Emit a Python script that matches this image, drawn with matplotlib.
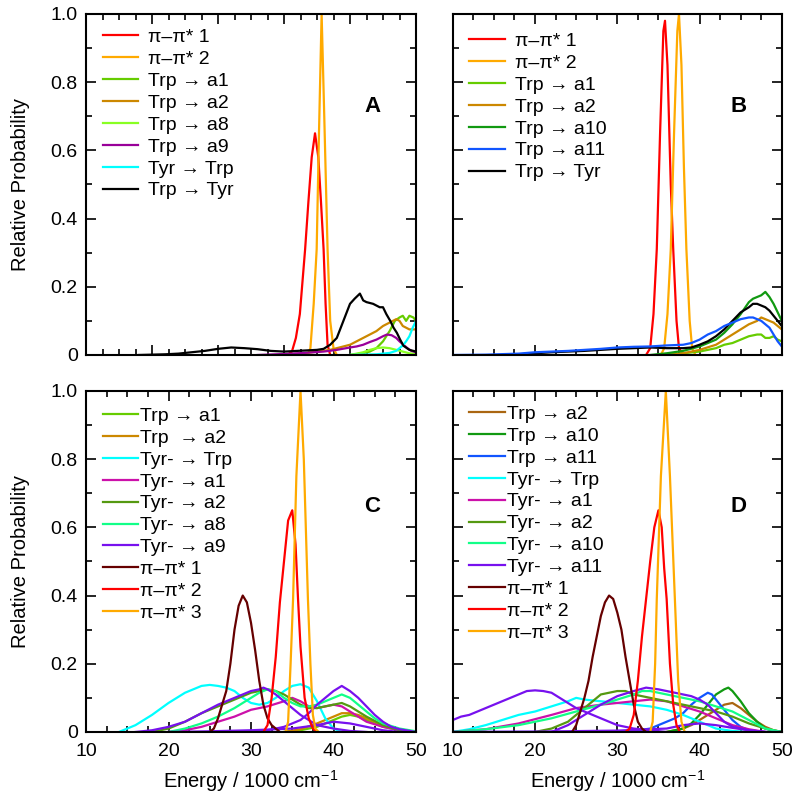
import matplotlib
matplotlib.use('Agg')
import matplotlib.pyplot as plt
from matplotlib.ticker import MultipleLocator

plt.rcParams['font.family'] = ['Liberation Sans', 'DejaVu Sans']
plt.rcParams['mathtext.fontset'] = 'custom'
plt.rcParams['mathtext.rm'] = 'Liberation Sans'

# ---------------- Panel A (x from 0 to 50) ----------------
a_pp1_x = [30.5, 31.2, 31.8, 32.4, 33.2, 33.7, 34.2, 34.7, 35.2, 35.6, 36.0, 36.3, 36.6, 37.0]
a_pp1_y = [0, 0.01, 0.05, 0.12, 0.31, 0.45, 0.58, 0.65, 0.58, 0.45, 0.31, 0.15, 0.03, 0]
a_pp2_x = [33.6, 34.0, 34.5, 34.95, 35.3, 35.7, 36.1, 36.6, 37.0, 37.5, 38.0]
a_pp2_y = [0, 0.02, 0.15, 0.31, 0.65, 1.0, 0.7, 0.31, 0.1, 0.02, 0]
a_a1_x = [40, 42, 43, 44, 45, 46, 46.8, 47.5, 48, 48.5, 49, 49.6, 50]
a_a1_y = [0, 0.005, 0.01, 0.02, 0.04, 0.07, 0.1, 0.11, 0.115, 0.1, 0.115, 0.11, 0.1]
a_a2_x = [30, 33, 35, 37, 38, 39, 40, 41, 42, 43, 44, 45, 46, 47, 47.5, 48, 48.5, 49, 50]
a_a2_y = [0, 0.005, 0.01, 0.015, 0.02, 0.025, 0.03, 0.04, 0.05, 0.06, 0.07, 0.085, 0.095, 0.105, 0.1,
          0.085, 0.08, 0.075, 0.075]
a_a8_x = [40, 42, 43, 44, 45, 46, 47, 48, 49, 50]
a_a8_y = [0, 0.008, 0.015, 0.02, 0.022, 0.02, 0.015, 0.01, 0.005, 0.003]
a_a9_x = [26, 30, 33, 36, 38, 40, 41, 42, 43, 44, 45, 45.6, 46.3, 47, 47.5, 48.1, 48.7, 49.3, 50]
a_a9_y = [0, 0.003, 0.006, 0.01, 0.015, 0.022, 0.025, 0.03, 0.038, 0.045, 0.055, 0.06, 0.058, 0.05,
          0.04, 0.03, 0.02, 0.012, 0.008]
a_tyrtrp_x = [40, 42, 44, 45, 46, 47, 47.5, 48, 48.5, 49, 49.5, 50]
a_tyrtrp_y = [0, 0.001, 0.002, 0.004, 0.006, 0.012, 0.02, 0.028, 0.04, 0.055, 0.08, 0.1]
a_trptyr_x = [8, 10, 12, 14, 16, 18, 20, 22, 24, 26, 28, 30, 32, 34, 35, 36, 37, 38, 38.5, 39, 39.5,
              40, 40.7, 41.5, 42, 42.5, 43.5, 44.5, 45, 45.5, 46.1, 46.6, 47.1, 47.6, 48.1, 49, 50]
a_trptyr_y = [0, 0.001, 0.002, 0.004, 0.008, 0.012, 0.018, 0.022, 0.02, 0.017, 0.012, 0.01, 0.012,
              0.014, 0.015, 0.018, 0.03, 0.05, 0.075, 0.1, 0.125, 0.15, 0.165, 0.18, 0.16, 0.155,
              0.15, 0.14, 0.14, 0.12, 0.1, 0.08, 0.065, 0.045, 0.027, 0.015, 0.01]

# ---------------- Panel B ----------------
b_pp1_x = [33.5, 34.0, 34.4, 34.8, 35.2, 35.6, 35.8, 36.1, 36.5, 36.8, 37.2, 37.5, 38.0]
b_pp1_y = [0, 0.02, 0.12, 0.31, 0.65, 0.95, 0.98, 0.85, 0.5, 0.31, 0.1, 0.02, 0]
b_pp2_x = [35.3, 35.7, 36.1, 36.5, 36.9, 37.3, 37.5, 37.8, 38.1, 38.4, 38.8, 39.1, 39.5]
b_pp2_y = [0, 0.02, 0.12, 0.31, 0.65, 0.95, 1.0, 0.85, 0.55, 0.31, 0.1, 0.02, 0]
b_a1_x = [36, 38, 40, 42, 43, 44, 45, 46, 47, 47.5, 48, 48.5, 49, 49.5, 50]
b_a1_y = [0, 0.005, 0.01, 0.02, 0.03, 0.035, 0.045, 0.055, 0.06, 0.06, 0.05, 0.05, 0.055, 0.045, 0.04]
b_a2_x = [36, 38, 40, 42, 43, 44, 45, 46, 47, 47.5, 48, 48.5, 49, 49.5, 50]
b_a2_y = [0, 0.005, 0.015, 0.03, 0.045, 0.06, 0.075, 0.09, 0.1, 0.11, 0.105, 0.1, 0.095, 0.085, 0.075]
b_a10_x = [34, 36, 38, 40, 41, 42, 43, 44, 45, 46, 46.5, 47, 47.5, 48, 48.5, 49, 49.5, 50]
b_a10_y = [0, 0.005, 0.012, 0.025, 0.035, 0.045, 0.065, 0.09, 0.12, 0.155, 0.165, 0.17, 0.175, 0.185,
           0.17, 0.15, 0.125, 0.1]
b_a11_x = [10, 14, 18, 20, 22, 24, 26, 28, 30, 32, 34, 36, 38, 39, 40, 41, 42, 43, 44, 45, 46, 46.5,
           47, 47.5, 48, 48.5, 49, 49.5, 50]
b_a11_y = [0, 0.001, 0.004, 0.008, 0.01, 0.012, 0.015, 0.018, 0.022, 0.024, 0.025, 0.028, 0.03, 0.035,
           0.045, 0.06, 0.07, 0.085, 0.095, 0.105, 0.11, 0.11, 0.105, 0.1, 0.09, 0.08, 0.06, 0.04, 0.025]
b_trptyr_x = [16, 18, 20, 22, 24, 26, 28, 30, 32, 34, 36, 38, 39, 40, 41, 42, 43, 44, 45, 46, 46.5,
              47, 47.5, 48, 48.5, 49, 49.5, 50]
b_trptyr_y = [0, 0.002, 0.005, 0.008, 0.01, 0.012, 0.015, 0.018, 0.02, 0.022, 0.02, 0.02, 0.022, 0.03,
              0.04, 0.055, 0.075, 0.1, 0.125, 0.14, 0.15, 0.15, 0.145, 0.14, 0.13, 0.115, 0.1, 0.085]

# ---------------- Panel C ----------------
c_a1_x = [34, 36, 38, 39, 40, 41, 42, 43, 44, 45, 46, 48, 50]
c_a1_y = [0, 0.005, 0.015, 0.025, 0.035, 0.045, 0.05, 0.045, 0.035, 0.025, 0.015, 0.005, 0]
c_a2_x = [34, 36, 38, 39, 40, 41, 42, 43, 44, 45, 46, 48, 50]
c_a2_y = [0, 0.008, 0.025, 0.035, 0.045, 0.055, 0.055, 0.05, 0.04, 0.03, 0.02, 0.008, 0]
c_tyrtrp_x = [14, 16, 18, 20, 22, 24, 25, 26, 27, 28, 29, 30, 31, 32, 33, 34, 35, 36, 37, 38, 39, 40, 41]
c_tyrtrp_y = [0, 0.02, 0.05, 0.085, 0.115, 0.135, 0.138, 0.135, 0.13, 0.12, 0.1, 0.085, 0.08, 0.085,
              0.1, 0.12, 0.135, 0.14, 0.13, 0.09, 0.04, 0.01, 0]
c_ty_a1_x = [20, 22, 24, 26, 28, 30, 32, 34, 35, 36, 37, 38, 39, 40, 41, 42, 43, 44, 46, 48, 50]
c_ty_a1_y = [0, 0.005, 0.015, 0.03, 0.045, 0.065, 0.075, 0.09, 0.1, 0.09, 0.075, 0.07, 0.075, 0.08,
             0.075, 0.06, 0.045, 0.03, 0.015, 0.005, 0]
c_ty_a2_x = [18, 20, 22, 24, 26, 28, 30, 31, 32, 33, 34, 35, 36, 37, 38, 39, 40, 41, 42, 43, 44, 46, 48, 50]
c_ty_a2_y = [0, 0.01, 0.03, 0.055, 0.075, 0.095, 0.115, 0.12, 0.125, 0.12, 0.11, 0.095, 0.08, 0.07,
             0.07, 0.075, 0.08, 0.085, 0.075, 0.06, 0.045, 0.02, 0.005, 0]
c_ty_a8_x = [20, 22, 24, 26, 28, 30, 31, 32, 33, 34, 35, 36, 37, 38, 39, 40, 41, 42, 43, 44, 45, 46, 48, 50]
c_ty_a8_y = [0, 0.01, 0.025, 0.045, 0.07, 0.1, 0.115, 0.125, 0.12, 0.1, 0.085, 0.075, 0.075, 0.08,
             0.09, 0.1, 0.11, 0.1, 0.08, 0.06, 0.04, 0.025, 0.01, 0.002]
c_ty_a9_x = [16, 18, 20, 22, 24, 26, 28, 30, 31, 31.5, 32, 33, 34, 35, 36, 37, 38, 40, 42, 44]
c_ty_a9_y = [0, 0.005, 0.015, 0.03, 0.055, 0.08, 0.1, 0.12, 0.125, 0.13, 0.125, 0.11, 0.09, 0.07,
             0.05, 0.035, 0.02, 0.01, 0.003, 0]
c_ty_a9b_x = [30, 32, 34, 36, 37, 38, 39, 40, 41, 42, 43, 44, 45, 46, 47, 48, 50]
c_ty_a9b_y = [0, 0.005, 0.015, 0.035, 0.055, 0.08, 0.1, 0.12, 0.135, 0.12, 0.1, 0.075, 0.05, 0.03,
              0.015, 0.008, 0]
c_ty_a9c_x = [20, 25, 30, 35, 38, 40, 42, 44, 46, 48]
c_ty_a9c_y = [0, 0.002, 0.005, 0.01, 0.02, 0.03, 0.025, 0.015, 0.005, 0]
c_pp1_x = [25, 25.5, 26, 26.5, 27, 27.5, 28, 28.5, 29, 29.5, 30, 30.5, 31, 31.5, 32, 32.5, 33, 33.5]
c_pp1_y = [0, 0.01, 0.04, 0.08, 0.12, 0.2, 0.3, 0.37, 0.4, 0.38, 0.32, 0.24, 0.15, 0.08, 0.04, 0.02,
           0.01, 0]
c_pp2_x = [31.5, 32, 32.5, 33, 33.5, 34, 34.5, 35, 35.4, 35.7, 36, 36.5, 37, 37.5, 38]
c_pp2_y = [0, 0.02, 0.1, 0.22, 0.38, 0.5, 0.62, 0.65, 0.55, 0.39, 0.25, 0.1, 0.04, 0.01, 0]
c_pp3_x = [34.2, 34.5, 34.8, 35.1, 35.5, 36, 36.4, 36.9, 37.2, 37.5, 37.8, 38.2]
c_pp3_y = [0, 0.03, 0.2, 0.39, 0.75, 1.0, 0.8, 0.39, 0.2, 0.05, 0.01, 0]

# ---------------- Panel D ----------------
d_a2_x = [36, 38, 39, 40, 41, 42, 43, 44, 45, 46, 47, 48, 49, 50]
d_a2_y = [0, 0.01, 0.02, 0.035, 0.05, 0.065, 0.08, 0.085, 0.07, 0.05, 0.03, 0.015, 0.005, 0]
d_a10_x = [36, 37, 38, 39, 40, 41, 42, 43, 43.5, 44, 45, 46, 47, 48, 49, 50]
d_a10_y = [0, 0.005, 0.01, 0.025, 0.05, 0.08, 0.11, 0.125, 0.13, 0.12, 0.09, 0.055, 0.03, 0.01, 0.003, 0]
d_a11_x = [10, 30, 32, 34, 35, 36, 37, 38, 39, 40, 41, 41.5, 42, 43, 44, 45, 46, 47, 50]
d_a11_y = [0, 0, 0.003, 0.01, 0.02, 0.03, 0.04, 0.055, 0.08, 0.1, 0.115, 0.11, 0.095, 0.065, 0.035,
           0.015, 0.005, 0, 0]
d_tyrtrp_x = [10, 12, 14, 16, 18, 20, 22, 24, 25, 26, 28, 30, 32, 34, 36, 38, 40, 42, 44, 46]
d_tyrtrp_y = [0, 0.008, 0.02, 0.035, 0.05, 0.06, 0.075, 0.09, 0.1, 0.095, 0.09, 0.085, 0.08, 0.075,
              0.065, 0.05, 0.03, 0.01, 0.003, 0]
d_ty_a1_x = [10, 14, 18, 22, 25, 28, 30, 32, 34, 36, 38, 40, 42, 44, 46, 48]
d_ty_a1_y = [0, 0.008, 0.025, 0.05, 0.07, 0.08, 0.085, 0.09, 0.095, 0.09, 0.075, 0.06, 0.04, 0.02,
             0.008, 0]
d_ty_a2_x = [20, 22, 24, 25, 26, 27, 28, 29, 30, 31, 32, 34, 36, 38, 40, 42, 44, 46, 48, 50]
d_ty_a2_y = [0, 0.01, 0.03, 0.05, 0.07, 0.09, 0.11, 0.115, 0.12, 0.12, 0.11, 0.1, 0.09, 0.08, 0.07,
             0.06, 0.045, 0.025, 0.01, 0]
d_ty_a10_x = [10, 14, 18, 22, 25, 28, 30, 32, 33, 34, 36, 38, 40, 42, 44, 46, 48, 50]
d_ty_a10_y = [0, 0.008, 0.02, 0.04, 0.06, 0.08, 0.095, 0.11, 0.12, 0.12, 0.11, 0.1, 0.09, 0.075, 0.06,
              0.035, 0.01, 0]
d_ty_a11_x = [10, 11, 12, 13, 14, 15, 16, 17, 18, 19, 20, 21, 22, 23, 24, 25, 26, 27, 28, 29, 30, 31,
              32, 34, 36]
d_ty_a11_y = [0.035, 0.045, 0.05, 0.06, 0.07, 0.08, 0.09, 0.1, 0.11, 0.12, 0.122, 0.12, 0.115, 0.1,
              0.085, 0.07, 0.06, 0.05, 0.04, 0.03, 0.02, 0.015, 0.01, 0.005, 0]
d_ty_a11b_x = [22, 24, 26, 28, 30, 32, 33.5, 35, 37, 39, 40, 41, 42, 43, 44, 46, 48]
d_ty_a11b_y = [0, 0.02, 0.05, 0.08, 0.105, 0.12, 0.13, 0.125, 0.115, 0.105, 0.095, 0.08, 0.055, 0.03,
               0.015, 0.005, 0]
d_ty_a11c_x = [10, 20, 30, 36, 38, 40, 42, 44, 46, 48, 50]
d_ty_a11c_y = [0, 0.001, 0.004, 0.01, 0.02, 0.025, 0.02, 0.012, 0.005, 0, 0]
d_pp1_x = [24.5, 25, 25.5, 26, 26.5, 27, 27.5, 28, 28.5, 29, 29.5, 30, 30.5, 31, 31.5, 32, 32.5, 33, 33.5]
d_pp1_y = [0, 0.02, 0.06, 0.1, 0.15, 0.22, 0.28, 0.34, 0.38, 0.4, 0.39, 0.35, 0.3, 0.22, 0.15, 0.08,
           0.03, 0.01, 0]
d_pp2_x = [31, 31.5, 32, 32.5, 33, 33.5, 34, 34.5, 35, 35.4, 35.7, 36, 36.4, 36.8, 37.2, 37.6]
d_pp2_y = [0, 0.01, 0.05, 0.15, 0.28, 0.39, 0.5, 0.6, 0.65, 0.6, 0.48, 0.39, 0.2, 0.08, 0.02, 0]
d_pp3_x = [34, 34.3, 34.6, 34.8, 35.3, 35.9, 36.4, 37, 37.4, 37.8, 38.2]
d_pp3_y = [0, 0.03, 0.2, 0.39, 0.75, 1.0, 0.75, 0.39, 0.15, 0.03, 0]

RED, ORANGE = '#ff0000', '#ffaa00'
LIME, BROWN, BRIGHT, PLUM = '#66cc00', '#cc8800', '#88ff22', '#990099'
CYAN, GREEN, BLUE = '#00ffff', '#119911', '#1155ff'
MAGENTA, OLIVE, SPRING, VIOLET = '#cc11aa', '#559911', '#11ff88', '#7711ee'
MAROON, DBROWN = '#660000', '#aa6611'

fig = plt.figure(figsize=(8.0, 7.97), dpi=100)
axA = fig.add_axes([0.1075, 0.5546, 0.4125, 0.4279])
axB = fig.add_axes([0.566, 0.5546, 0.41125, 0.4279])
axC = fig.add_axes([0.1075, 0.0816, 0.4125, 0.4279])
axD = fig.add_axes([0.566, 0.0816, 0.41125, 0.4279])

lw = 1.6
axA.plot(a_pp1_x, a_pp1_y, color=RED, lw=lw, label='π–π* 1')
axA.plot(a_pp2_x, a_pp2_y, color=ORANGE, lw=lw, label='π–π* 2')
axA.plot(a_a1_x, a_a1_y, color=LIME, lw=lw, label='Trp → a1')
axA.plot(a_a2_x, a_a2_y, color=BROWN, lw=lw, label='Trp → a2')
axA.plot(a_a8_x, a_a8_y, color=BRIGHT, lw=lw, label='Trp → a8')
axA.plot(a_a9_x, a_a9_y, color=PLUM, lw=lw, label='Trp → a9')
axA.plot(a_tyrtrp_x, a_tyrtrp_y, color=CYAN, lw=lw, label='Tyr → Trp')
axA.plot(a_trptyr_x, a_trptyr_y, color='black', lw=lw, label='Trp → Tyr')

axB.plot(b_pp1_x, b_pp1_y, color=RED, lw=lw, label='π–π* 1')
axB.plot(b_pp2_x, b_pp2_y, color=ORANGE, lw=lw, label='π–π* 2')
axB.plot(b_a1_x, b_a1_y, color=LIME, lw=lw, label='Trp → a1')
axB.plot(b_a2_x, b_a2_y, color=BROWN, lw=lw, label='Trp → a2')
axB.plot(b_a10_x, b_a10_y, color=GREEN, lw=lw, label='Trp → a10')
axB.plot(b_trptyr_x, b_trptyr_y, color='black', lw=lw)
axB.plot(b_a11_x, b_a11_y, color=BLUE, lw=lw, label='Trp → a11')
axB.plot([], [], color='black', lw=lw, label='Trp → Tyr')

axC.plot(c_a1_x, c_a1_y, color=LIME, lw=lw, label='Trp → a1')
axC.plot(c_a2_x, c_a2_y, color=BROWN, lw=lw, label='Trp  → a2')
axC.plot(c_tyrtrp_x, c_tyrtrp_y, color=CYAN, lw=lw, label='Tyr- → Trp')
axC.plot(c_ty_a1_x, c_ty_a1_y, color=MAGENTA, lw=lw, label='Tyr- → a1')
axC.plot(c_ty_a2_x, c_ty_a2_y, color=OLIVE, lw=lw, label='Tyr- → a2')
axC.plot(c_ty_a8_x, c_ty_a8_y, color=SPRING, lw=lw, label='Tyr- → a8')
axC.plot(c_ty_a9_x, c_ty_a9_y, color=VIOLET, lw=lw, label='Tyr- → a9')
axC.plot(c_ty_a9b_x, c_ty_a9b_y, color=VIOLET, lw=lw)
axC.plot(c_ty_a9c_x, c_ty_a9c_y, color=VIOLET, lw=lw)
axC.plot(c_pp1_x, c_pp1_y, color=MAROON, lw=lw, label='π–π* 1')
axC.plot(c_pp2_x, c_pp2_y, color=RED, lw=lw, label='π–π* 2')
axC.plot(c_pp3_x, c_pp3_y, color=ORANGE, lw=lw, label='π–π* 3')

axD.plot(d_a2_x, d_a2_y, color=DBROWN, lw=lw, label='Trp → a2')
axD.plot(d_a10_x, d_a10_y, color=GREEN, lw=lw, label='Trp → a10')
axD.plot(d_a11_x, d_a11_y, color=BLUE, lw=lw, label='Trp → a11')
axD.plot(d_tyrtrp_x, d_tyrtrp_y, color=CYAN, lw=lw, label='Tyr- → Trp')
axD.plot(d_ty_a1_x, d_ty_a1_y, color=MAGENTA, lw=lw, label='Tyr- → a1')
axD.plot(d_ty_a2_x, d_ty_a2_y, color=OLIVE, lw=lw, label='Tyr- → a2')
axD.plot(d_ty_a10_x, d_ty_a10_y, color=SPRING, lw=lw, label='Tyr- → a10')
axD.plot(d_ty_a11_x, d_ty_a11_y, color=VIOLET, lw=lw, label='Tyr- → a11')
axD.plot(d_ty_a11b_x, d_ty_a11b_y, color=VIOLET, lw=lw)
axD.plot(d_ty_a11c_x, d_ty_a11c_y, color=VIOLET, lw=lw)
axD.plot(d_pp1_x, d_pp1_y, color=MAROON, lw=lw, label='π–π* 1')
axD.plot(d_pp2_x, d_pp2_y, color=RED, lw=lw, label='π–π* 2')
axD.plot(d_pp3_x, d_pp3_y, color=ORANGE, lw=lw, label='π–π* 3')

for ax, letter, xmin, pad, top in [(axA, 'A', 0, 0.5, 0.957), (axB, 'B', 10, 0.5, 0.946),
                                   (axC, 'C', 10, 0.1, 0.952), (axD, 'D', 10, 0.1, 0.958)]:
    ax.set_xlim(xmin, 50)
    ax.set_ylim(0, 1.0)
    ax.xaxis.set_major_locator(MultipleLocator(10))
    ax.xaxis.set_minor_locator(MultipleLocator(2.5))
    ax.yaxis.set_major_locator(MultipleLocator(0.2))
    ax.yaxis.set_minor_locator(MultipleLocator(0.1))
    ax.tick_params(which='both', direction='in', top=True, right=True, width=1.2,
                   labelsize=14, pad=6)
    ax.tick_params(axis='x', which='both', pad=8)
    ax.tick_params(which='major', length=7.5)
    ax.tick_params(which='minor', length=4.5)
    for s in ax.spines.values():
        s.set_linewidth(1.5)
    ax.yaxis.set_major_formatter(plt.FuncFormatter(lambda v, p: '0' if abs(v) < 1e-9 else f'{v:.1f}'))
    ax.text(0.868, 0.73 if letter in 'AB' else 0.66, letter, transform=ax.transAxes,
            fontsize=16, fontweight='bold', ha='center', va='center')
    ax.legend(loc='upper left', bbox_to_anchor=(0.05, top), borderaxespad=0, borderpad=0,
              frameon=False, fontsize=14, handlelength=1.85, handletextpad=pad,
              labelspacing=0.22)

axA.tick_params(labelbottom=False)
axB.tick_params(labelbottom=False, labelleft=False)
axD.tick_params(labelleft=False)
for ax in (axC, axD):
    ax.set_xlabel('Energy / 1000 cm$^{-1}$', fontsize=14.5, labelpad=6)

fig.text(0.026, 0.7685, 'Relative Probability', rotation=90, fontsize=14.5, ha='center', va='center')
fig.text(0.026, 0.2955, 'Relative Probability', rotation=90, fontsize=14.5, ha='center', va='center')

fig.savefig('out.png', dpi=100)
